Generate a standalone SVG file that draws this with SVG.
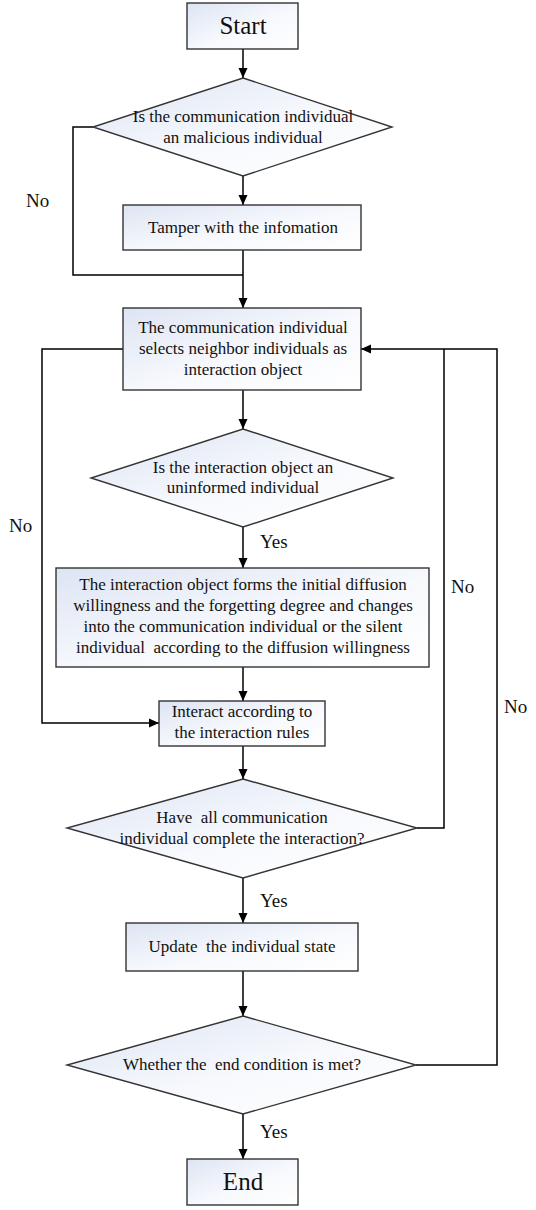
<svg xmlns="http://www.w3.org/2000/svg" width="536" height="1210" viewBox="0 0 536 1210">
<defs>
<linearGradient id="g" x1="0" y1="0" x2="1" y2="1">
<stop offset="0" stop-color="#dde4f3"/>
<stop offset="0.55" stop-color="#f7f9fd"/>
<stop offset="1" stop-color="#ffffff"/>
</linearGradient>
<marker id="ah" viewBox="0 0 10 10" refX="10" refY="5" markerWidth="10" markerHeight="10" markerUnits="userSpaceOnUse" orient="auto">
<path d="M0,0.5 L10,5 L0,9.5 Z" fill="#000"/>
</marker>
<style>
.n{fill:url(#g);stroke:#333;stroke-width:1.4}
.t{font-family:"Liberation Serif","Times New Roman",serif;font-size:17px;fill:#111;text-anchor:middle}
.big{font-size:25px}
.lb{font-family:"Liberation Serif","Times New Roman",serif;font-size:19px;fill:#111}
.c{fill:none;stroke:#000;stroke-width:1.5}
</style>
</defs>
<g id="connectors">
<path class="c" d="M243,49 V78" marker-end="url(#ah)"/>
<path class="c" d="M243,176 V205" marker-end="url(#ah)"/>
<path class="c" d="M93,127 H73 V275 H243"/>
<path class="c" d="M243,250 V308" marker-end="url(#ah)"/>
<path class="c" d="M243,390 V429" marker-end="url(#ah)"/>
<path class="c" d="M123,349 H42 V723 H159" marker-end="url(#ah)"/>
<path class="c" d="M243,527 V568" marker-end="url(#ah)"/>
<path class="c" d="M243,667 V701" marker-end="url(#ah)"/>
<path class="c" d="M243,746 V779" marker-end="url(#ah)"/>
<path class="c" d="M417,828 H444 V349"/>
<path class="c" d="M243,878 V923" marker-end="url(#ah)"/>
<path class="c" d="M243,971 V1016" marker-end="url(#ah)"/>
<path class="c" d="M416,1065 H497 V349 H361" marker-end="url(#ah)"/>
<path class="c" d="M243,1114 V1159" marker-end="url(#ah)"/>
<text class="lb" x="26" y="207">No</text>
<text class="lb" x="9" y="532">No</text>
<text class="lb" x="260" y="548">Yes</text>
<text class="lb" x="451" y="593">No</text>
<text class="lb" x="504" y="713">No</text>
<text class="lb" x="260" y="907">Yes</text>
<text class="lb" x="260" y="1138">Yes</text>
</g>
<g id="start">
<rect class="n" x="187" y="3" width="111" height="46"/>
<text class="t big" x="243" y="34">Start</text>
</g>
<g id="d1">
<polygon class="n" points="243,78 392,127 243,176 93,127"/>
<text class="t" x="243" y="122">Is the communication individual</text>
<text class="t" x="243" y="143">an malicious individual</text>
</g>
<g id="tamper">
<rect class="n" x="123" y="205" width="238" height="45"/>
<text class="t" x="243" y="233">Tamper with the infomation</text>
</g>
<g id="select">
<rect class="n" x="123" y="308" width="238" height="82"/>
<text class="t" x="243" y="333">The communication individual</text>
<text class="t" x="243" y="354">selects neighbor individuals as</text>
<text class="t" x="243" y="375">interaction object</text>
</g>
<g id="d2">
<polygon class="n" points="243,429 393,478 243,527 91,478"/>
<text class="t" x="243" y="473">Is the interaction object an</text>
<text class="t" x="243" y="493">uninformed individual</text>
</g>
<g id="forms">
<rect class="n" x="56" y="568" width="373" height="99"/>
<text class="t" x="243" y="590">The interaction object forms the initial diffusion</text>
<text class="t" x="243" y="611">willingness and the forgetting degree and changes</text>
<text class="t" x="243" y="632">into the communication individual or the silent</text>
<text class="t" x="243" y="653" xml:space="preserve">individual  according to the diffusion willingness</text>
</g>
<g id="interact">
<rect class="n" x="159" y="701" width="166" height="45"/>
<text class="t" x="242" y="717">Interact according to</text>
<text class="t" x="242" y="738">the interaction rules</text>
</g>
<g id="d3">
<polygon class="n" points="243,779 417,828 243,878 67,828"/>
<text class="t" x="242" y="823" xml:space="preserve">Have  all communication</text>
<text class="t" x="242" y="844">individual complete the interaction?</text>
</g>
<g id="update">
<rect class="n" x="126" y="923" width="232" height="48"/>
<text class="t" x="242" y="952" xml:space="preserve">Update  the individual state</text>
</g>
<g id="d4">
<polygon class="n" points="243,1016 416,1065 243,1114 67,1065"/>
<text class="t" x="242" y="1070" xml:space="preserve">Whether the  end condition is met?</text>
</g>
<g id="end">
<rect class="n" x="187" y="1159" width="111" height="46"/>
<text class="t big" x="243" y="1190">End</text>
</g>
</svg>
